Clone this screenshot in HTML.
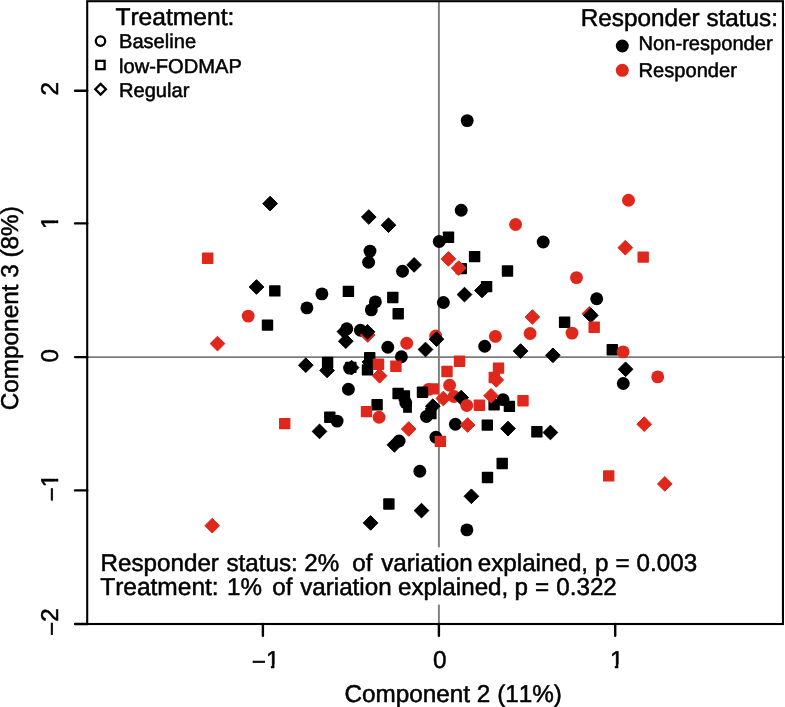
<!DOCTYPE html>
<html><head><meta charset="utf-8"><title>PCA plot</title>
<style>
html,body{margin:0;padding:0;background:#fff;}
svg{display:block;}
text{font-family:"Liberation Sans",sans-serif;fill:#000;stroke:#000;stroke-width:0.5px;font-kerning:none;text-rendering:geometricPrecision;}
</style></head><body>
<svg width="785" height="707" viewBox="0 0 785 707">
<rect width="785" height="707" fill="#fff"/>
<!-- zero lines -->
<line x1="87" y1="357.1" x2="785" y2="357.1" stroke="#7c7c7c" stroke-width="1.9"/>
<line x1="438.9" y1="1" x2="438.9" y2="624" stroke="#7c7c7c" stroke-width="1.9"/>
<!-- data -->
<path d="M270.1 196.25L277.45 203.6L270.1 210.95L262.75 203.6Z" fill="#000" stroke="#000" stroke-width="1" stroke-linejoin="round"/>
<rect x="202.00" y="252.50" width="11.4" height="11.4" rx="0.7" fill="#DF271C"/>
<circle cx="467.2" cy="120.6" r="6.45" fill="#000"/>
<circle cx="461.2" cy="210.3" r="6.45" fill="#000"/>
<circle cx="515.6" cy="224.5" r="6.45" fill="#DF271C"/>
<path d="M368.8 209.65L376.15 217.0L368.8 224.35L361.45 217.0Z" fill="#000" stroke="#000" stroke-width="1" stroke-linejoin="round"/>
<path d="M388.5 217.85L395.85 225.2L388.5 232.55L381.15 225.2Z" fill="#000" stroke="#000" stroke-width="1" stroke-linejoin="round"/>
<circle cx="439.2" cy="241.5" r="6.45" fill="#000"/>
<rect x="442.80" y="231.50" width="11.4" height="11.4" rx="0.7" fill="#000"/>
<circle cx="370.0" cy="251.1" r="6.45" fill="#000"/>
<circle cx="368.6" cy="262.2" r="6.45" fill="#000"/>
<path d="M448.4 251.55L455.75 258.9L448.4 266.25L441.05 258.9Z" fill="#DF271C" stroke="#DF271C" stroke-width="1" stroke-linejoin="round"/>
<rect x="468.90" y="250.90" width="11.4" height="11.4" rx="0.7" fill="#000"/>
<path d="M414.1 257.55L421.45 264.9L414.1 272.25L406.75 264.9Z" fill="#000" stroke="#000" stroke-width="1" stroke-linejoin="round"/>
<circle cx="628.5" cy="200.2" r="6.45" fill="#DF271C"/>
<circle cx="543.2" cy="242.0" r="6.45" fill="#000"/>
<path d="M625.3 240.35L632.65 247.7L625.3 255.05L617.95 247.7Z" fill="#DF271C" stroke="#DF271C" stroke-width="1" stroke-linejoin="round"/>
<rect x="637.50" y="251.40" width="11.4" height="11.4" rx="0.7" fill="#DF271C"/>
<path d="M256.5 279.65L263.85 287.0L256.5 294.35L249.15 287.0Z" fill="#000" stroke="#000" stroke-width="1" stroke-linejoin="round"/>
<rect x="269.10" y="285.20" width="11.4" height="11.4" rx="0.7" fill="#000"/>
<circle cx="248.2" cy="316.1" r="6.45" fill="#DF271C"/>
<rect x="261.80" y="319.40" width="11.4" height="11.4" rx="0.7" fill="#000"/>
<path d="M217.5 336.25L224.85 343.6L217.5 350.95L210.15 343.6Z" fill="#DF271C" stroke="#DF271C" stroke-width="1" stroke-linejoin="round"/>
<circle cx="321.9" cy="293.9" r="6.45" fill="#000"/>
<circle cx="306.9" cy="307.9" r="6.45" fill="#000"/>
<rect x="342.70" y="285.70" width="11.4" height="11.4" rx="0.7" fill="#000"/>
<circle cx="346.8" cy="328.8" r="6.45" fill="#000"/>
<path d="M344.4 324.25L351.75 331.6L344.4 338.95L337.05 331.6Z" fill="#000" stroke="#000" stroke-width="1" stroke-linejoin="round"/>
<path d="M345.8 333.85L353.15 341.2L345.8 348.55L338.45 341.2Z" fill="#000" stroke="#000" stroke-width="1" stroke-linejoin="round"/>
<path d="M305.8 357.85L313.15 365.2L305.8 372.55L298.45 365.2Z" fill="#000" stroke="#000" stroke-width="1" stroke-linejoin="round"/>
<rect x="321.90" y="356.80" width="11.4" height="11.4" rx="0.7" fill="#000"/>
<path d="M327.1 363.05L334.45 370.4L327.1 377.75L319.75 370.4Z" fill="#000" stroke="#000" stroke-width="1" stroke-linejoin="round"/>
<circle cx="349.6" cy="368.1" r="6.45" fill="#000"/>
<path d="M351.6 360.25L358.95 367.6L351.6 374.95L344.25 367.6Z" fill="#000" stroke="#000" stroke-width="1" stroke-linejoin="round"/>
<rect x="345.10" y="361.70" width="11.4" height="11.4" rx="0.7" fill="#000"/>
<circle cx="348.4" cy="389.3" r="6.45" fill="#000"/>
<circle cx="402.5" cy="271.2" r="6.45" fill="#000"/>
<circle cx="375.4" cy="301.9" r="6.45" fill="#000"/>
<circle cx="371.3" cy="309.9" r="6.45" fill="#000"/>
<rect x="387.10" y="291.80" width="11.4" height="11.4" rx="0.7" fill="#000"/>
<rect x="392.50" y="308.10" width="11.4" height="11.4" rx="0.7" fill="#000"/>
<circle cx="443.4" cy="302.5" r="6.45" fill="#000"/>
<circle cx="360.4" cy="330.2" r="6.45" fill="#000"/>
<path d="M367.7 327.65L375.05 335.0L367.7 342.35L360.35 335.0Z" fill="#DF271C" stroke="#DF271C" stroke-width="1" stroke-linejoin="round"/>
<path d="M367.5 324.45L374.85 331.8L367.5 339.15L360.15 331.8Z" fill="#000" stroke="#000" stroke-width="1" stroke-linejoin="round"/>
<circle cx="387.8" cy="347.2" r="6.45" fill="#000"/>
<circle cx="406.7" cy="343.3" r="6.45" fill="#DF271C"/>
<circle cx="435.7" cy="336.0" r="6.45" fill="#DF271C"/>
<path d="M436.5 331.85L443.85 339.2L436.5 346.55L429.15 339.2Z" fill="#000" stroke="#000" stroke-width="1" stroke-linejoin="round"/>
<path d="M425.5 342.15L432.85 349.5L425.5 356.85L418.15 349.5Z" fill="#000" stroke="#000" stroke-width="1" stroke-linejoin="round"/>
<rect x="455.60" y="262.90" width="11.4" height="11.4" rx="0.7" fill="#000"/>
<path d="M458.7 260.75L466.05 268.1L458.7 275.45L451.35 268.1Z" fill="#DF271C" stroke="#DF271C" stroke-width="1" stroke-linejoin="round"/>
<rect x="501.80" y="265.30" width="11.4" height="11.4" rx="0.7" fill="#000"/>
<rect x="480.90" y="280.90" width="11.4" height="11.4" rx="0.7" fill="#000"/>
<path d="M482.0 283.05L489.35 290.4L482.0 297.75L474.65 290.4Z" fill="#000" stroke="#000" stroke-width="1" stroke-linejoin="round"/>
<path d="M464.5 287.25L471.85 294.6L464.5 301.95L457.15 294.6Z" fill="#000" stroke="#000" stroke-width="1" stroke-linejoin="round"/>
<path d="M532.4 309.65L539.75 317.0L532.4 324.35L525.05 317.0Z" fill="#DF271C" stroke="#DF271C" stroke-width="1" stroke-linejoin="round"/>
<circle cx="530.1" cy="333.5" r="6.45" fill="#DF271C"/>
<circle cx="495.4" cy="336.4" r="6.45" fill="#DF271C"/>
<circle cx="484.7" cy="346.3" r="6.45" fill="#000"/>
<path d="M520.6 343.75L527.95 351.1L520.6 358.45L513.25 351.1Z" fill="#000" stroke="#000" stroke-width="1" stroke-linejoin="round"/>
<path d="M552.9 347.95L560.25 355.3L552.9 362.65L545.55 355.3Z" fill="#000" stroke="#000" stroke-width="1" stroke-linejoin="round"/>
<rect x="453.80" y="355.60" width="11.4" height="11.4" rx="0.7" fill="#DF271C"/>
<rect x="441.30" y="365.80" width="11.4" height="11.4" rx="0.7" fill="#DF271C"/>
<rect x="492.80" y="362.40" width="11.4" height="11.4" rx="0.7" fill="#DF271C"/>
<rect x="488.60" y="371.80" width="11.4" height="11.4" rx="0.7" fill="#DF271C"/>
<path d="M496.3 372.55L503.65 379.9L496.3 387.25L488.95 379.9Z" fill="#DF271C" stroke="#DF271C" stroke-width="1" stroke-linejoin="round"/>
<circle cx="449.6" cy="385.3" r="6.45" fill="#DF271C"/>
<circle cx="428.6" cy="389.4" r="6.45" fill="#DF271C"/>
<rect x="427.50" y="383.20" width="11.4" height="11.4" rx="0.7" fill="#DF271C"/>
<path d="M443.3 391.15L450.65 398.5L443.3 405.85L435.95 398.5Z" fill="#DF271C" stroke="#DF271C" stroke-width="1" stroke-linejoin="round"/>
<circle cx="454.0" cy="396.5" r="6.45" fill="#DF271C"/>
<path d="M461.2 390.25L468.55 397.6L461.2 404.95L453.85 397.6Z" fill="#000" stroke="#000" stroke-width="1" stroke-linejoin="round"/>
<circle cx="466.8" cy="405.5" r="6.45" fill="#DF271C"/>
<rect x="473.70" y="399.60" width="11.4" height="11.4" rx="0.7" fill="#DF271C"/>
<circle cx="503.0" cy="399.6" r="6.45" fill="#000"/>
<rect x="488.40" y="399.10" width="11.4" height="11.4" rx="0.7" fill="#000"/>
<rect x="503.70" y="400.70" width="11.4" height="11.4" rx="0.7" fill="#000"/>
<path d="M491.0 388.45L498.35 395.8L491.0 403.15L483.65 395.8Z" fill="#DF271C" stroke="#DF271C" stroke-width="1" stroke-linejoin="round"/>
<rect x="517.30" y="395.00" width="11.4" height="11.4" rx="0.7" fill="#DF271C"/>
<rect x="425.20" y="407.80" width="11.4" height="11.4" rx="0.7" fill="#000"/>
<circle cx="426.4" cy="416.5" r="6.45" fill="#000"/>
<path d="M432.8 398.85L440.15 406.2L432.8 413.55L425.45 406.2Z" fill="#000" stroke="#000" stroke-width="1" stroke-linejoin="round"/>
<circle cx="455.4" cy="424.3" r="6.45" fill="#000"/>
<path d="M467.6 417.65L474.95 425.0L467.6 432.35L460.25 425.0Z" fill="#DF271C" stroke="#DF271C" stroke-width="1" stroke-linejoin="round"/>
<rect x="481.60" y="419.40" width="11.4" height="11.4" rx="0.7" fill="#000"/>
<path d="M508.0 421.25L515.35 428.6L508.0 435.95L500.65 428.6Z" fill="#000" stroke="#000" stroke-width="1" stroke-linejoin="round"/>
<rect x="531.20" y="426.00" width="11.4" height="11.4" rx="0.7" fill="#000"/>
<path d="M550.4 425.15L557.75 432.5L550.4 439.85L543.05 432.5Z" fill="#000" stroke="#000" stroke-width="1" stroke-linejoin="round"/>
<circle cx="435.9" cy="437.3" r="6.45" fill="#000"/>
<rect x="434.70" y="435.70" width="11.4" height="11.4" rx="0.7" fill="#DF271C"/>
<rect x="496.50" y="457.80" width="11.4" height="11.4" rx="0.7" fill="#000"/>
<rect x="481.80" y="471.80" width="11.4" height="11.4" rx="0.7" fill="#000"/>
<path d="M471.4 488.95L478.75 496.3L471.4 503.65L464.05 496.3Z" fill="#000" stroke="#000" stroke-width="1" stroke-linejoin="round"/>
<circle cx="419.8" cy="471.3" r="6.45" fill="#000"/>
<circle cx="401.4" cy="356.8" r="6.45" fill="#000"/>
<path d="M369.5 354.65L376.85 362.0L369.5 369.35L362.15 362.0Z" fill="#000" stroke="#000" stroke-width="1" stroke-linejoin="round"/>
<rect x="364.00" y="352.00" width="11.4" height="11.4" rx="0.7" fill="#000"/>
<rect x="361.80" y="364.20" width="11.4" height="11.4" rx="0.7" fill="#000"/>
<rect x="372.80" y="358.60" width="11.4" height="11.4" rx="0.7" fill="#DF271C"/>
<path d="M379.6 368.45L386.95 375.8L379.6 383.15L372.25 375.8Z" fill="#DF271C" stroke="#DF271C" stroke-width="1" stroke-linejoin="round"/>
<rect x="390.20" y="360.60" width="11.4" height="11.4" rx="0.7" fill="#DF271C"/>
<rect x="371.40" y="399.00" width="11.4" height="11.4" rx="0.7" fill="#000"/>
<rect x="360.80" y="405.90" width="11.4" height="11.4" rx="0.7" fill="#DF271C"/>
<circle cx="379.1" cy="417.3" r="6.45" fill="#DF271C"/>
<rect x="392.40" y="387.80" width="11.4" height="11.4" rx="0.7" fill="#000"/>
<rect x="398.70" y="390.20" width="11.4" height="11.4" rx="0.7" fill="#000"/>
<circle cx="405.75" cy="402.8" r="6.45" fill="#000"/>
<rect x="403.15" y="401.4" width="8.75" height="11.4" fill="#000"/>
<rect x="416.80" y="386.50" width="11.4" height="11.4" rx="0.7" fill="#000"/>
<path d="M408.7 421.65L416.05 429.0L408.7 436.35L401.35 429.0Z" fill="#DF271C" stroke="#DF271C" stroke-width="1" stroke-linejoin="round"/>
<circle cx="399.1" cy="441.0" r="6.45" fill="#000"/>
<path d="M394.4 437.45L401.75 444.8L394.4 452.15L387.05 444.8Z" fill="#000" stroke="#000" stroke-width="1" stroke-linejoin="round"/>
<rect x="324.10" y="411.50" width="11.4" height="11.4" rx="0.7" fill="#000"/>
<circle cx="337.1" cy="421.1" r="6.45" fill="#000"/>
<path d="M319.5 424.05L326.85 431.4L319.5 438.75L312.15 431.4Z" fill="#000" stroke="#000" stroke-width="1" stroke-linejoin="round"/>
<rect x="279.00" y="417.90" width="11.4" height="11.4" rx="0.7" fill="#DF271C"/>
<path d="M212.2 518.35L219.55 525.7L212.2 533.05L204.85 525.7Z" fill="#DF271C" stroke="#DF271C" stroke-width="1" stroke-linejoin="round"/>
<path d="M370.6 515.55L377.95 522.9L370.6 530.25L363.25 522.9Z" fill="#000" stroke="#000" stroke-width="1" stroke-linejoin="round"/>
<rect x="383.20" y="498.30" width="11.4" height="11.4" rx="0.7" fill="#000"/>
<path d="M421.5 503.25L428.85 510.6L421.5 517.95L414.15 510.6Z" fill="#000" stroke="#000" stroke-width="1" stroke-linejoin="round"/>
<circle cx="466.9" cy="529.9" r="6.45" fill="#000"/>
<circle cx="576.5" cy="277.6" r="6.45" fill="#DF271C"/>
<circle cx="596.7" cy="298.7" r="6.45" fill="#000"/>
<path d="M589.3 306.45L596.65 313.8L589.3 321.15L581.95 313.8Z" fill="#DF271C" stroke="#DF271C" stroke-width="1" stroke-linejoin="round"/>
<path d="M590.8 308.05L598.15 315.4L590.8 322.75L583.45 315.4Z" fill="#000" stroke="#000" stroke-width="1" stroke-linejoin="round"/>
<rect x="588.50" y="321.60" width="11.4" height="11.4" rx="0.7" fill="#DF271C"/>
<rect x="558.90" y="316.60" width="11.4" height="11.4" rx="0.7" fill="#000"/>
<circle cx="572.0" cy="333.1" r="6.45" fill="#DF271C"/>
<rect x="606.60" y="344.10" width="11.4" height="11.4" rx="0.7" fill="#000"/>
<circle cx="623.1" cy="351.9" r="6.45" fill="#DF271C"/>
<path d="M625.6 361.95L632.95 369.3L625.6 376.65L618.25 369.3Z" fill="#000" stroke="#000" stroke-width="1" stroke-linejoin="round"/>
<circle cx="623.3" cy="383.5" r="6.45" fill="#000"/>
<circle cx="657.7" cy="376.9" r="6.45" fill="#DF271C"/>
<path d="M644.2 416.85L651.55 424.2L644.2 431.55L636.85 424.2Z" fill="#DF271C" stroke="#DF271C" stroke-width="1" stroke-linejoin="round"/>
<rect x="603.00" y="470.20" width="11.4" height="11.4" rx="0.7" fill="#DF271C"/>
<path d="M664.8 476.55L672.15 483.9L664.8 491.25L657.45 483.9Z" fill="#DF271C" stroke="#DF271C" stroke-width="1" stroke-linejoin="round"/>
<!-- annotation box -->
<rect x="95" y="547.3" width="590" height="57.3" fill="#fff"/>
<text y="571.1" font-size="24.2" xml:space="preserve"><tspan x="100.60">Responder </tspan><tspan x="226.50">status: </tspan><tspan x="304.30">2%  </tspan><tspan x="352.20">of </tspan><tspan x="381.20">variation </tspan><tspan x="477.80">explained, </tspan><tspan x="595.00">p </tspan><tspan x="615.50">= </tspan><tspan x="636.60">0.003</tspan></text>
<text y="594.9" font-size="24.2" xml:space="preserve"><tspan x="100.20" font-size="24.5">Treatment: </tspan><tspan x="227.00">1%  </tspan><tspan x="272.30">of </tspan><tspan x="300.20">variation </tspan><tspan x="398.00">explained, </tspan><tspan x="514.40">p </tspan><tspan x="534.90">= </tspan><tspan x="556.30">0.322</tspan></text>
<!-- frame -->
<rect x="87.2" y="1.2" width="695.75" height="622.8" fill="none" stroke="#000" stroke-width="2.1"/>
<!-- ticks -->
<g stroke="#000" stroke-width="2.4" stroke-linecap="round">
<line x1="262.9" y1="624" x2="262.9" y2="635.8"/>
<line x1="438.9" y1="624" x2="438.9" y2="635.8"/>
<line x1="615.2" y1="624" x2="615.2" y2="635.8"/>
<line x1="75.1" y1="90.7" x2="87.2" y2="90.7"/>
<line x1="75.1" y1="223.4" x2="87.2" y2="223.4"/>
<line x1="75.1" y1="357.1" x2="87.2" y2="357.1"/>
<line x1="75.1" y1="490.4" x2="87.2" y2="490.4"/>
<line x1="75.1" y1="624" x2="87.2" y2="624"/>
</g>
<!-- tick labels -->
<g transform="translate(251.8 667.7)"><text font-size="24.3"><tspan dy="2">−</tspan><tspan dy="-2">1</tspan></text><rect x="14.49" y="-3.2" width="4.60" height="4.5" fill="#fff"/><rect x="22.64" y="-3.2" width="5.2" height="4.5" fill="#fff"/></g>
<g transform="translate(433.1 667.7)"><text font-size="24.3">0</text></g>
<g transform="translate(609.9 667.7)"><text font-size="24.3">1</text><rect x="0.30" y="-3.2" width="4.60" height="4.5" fill="#fff"/><rect x="8.45" y="-3.2" width="5.2" height="4.5" fill="#fff"/></g>
<g transform="translate(58.2 95.6) rotate(-90)"><text font-size="24.3">2</text></g>
<g transform="translate(58.2 228.9) rotate(-90)"><text font-size="24.3">1</text><rect x="0.30" y="-3.2" width="5.40" height="4.5" fill="#fff"/><rect x="8.60" y="-3.2" width="5.2" height="4.5" fill="#fff"/></g>
<g transform="translate(58.2 362.5) rotate(-90)"><text font-size="24.3">0</text></g>
<g transform="translate(58.2 501.5) rotate(-90)"><text font-size="24.3"><tspan dy="2">−</tspan><tspan dy="-2">1</tspan></text><rect x="14.49" y="-3.2" width="5.40" height="4.5" fill="#fff"/><rect x="22.79" y="-3.2" width="5.2" height="4.5" fill="#fff"/></g>
<g transform="translate(58.2 635.9) rotate(-90)"><text font-size="24.3"><tspan dy="2">−</tspan><tspan dy="-2">2</tspan></text></g>
<!-- axis titles -->
<text x="344.5" y="701.6" font-size="24.3">Component 2 (11%)</text>
<text transform="translate(18.4 410.2) rotate(-90)" font-size="24.3">Component 3 (8%)</text>
<!-- left legend -->
<text x="115.4" y="25.2" font-size="24.3" textLength="119" lengthAdjust="spacingAndGlyphs">Treatment:</text>
<circle cx="100.5" cy="41.1" r="4.7" fill="none" stroke="#000" stroke-width="2.3"/>
<rect x="96.3" y="60.85" width="8.3" height="8.3" fill="none" stroke="#000" stroke-width="2.3"/>
<path d="M100.6 83.9L105.9 89.2L100.6 94.5L95.3 89.2Z" fill="none" stroke="#000" stroke-width="2.3"/>
<g font-size="20.1">
<text x="119" y="48.1">Baseline</text>
<text x="119" y="72.5">low-FODMAP</text>
<text x="119" y="96.8">Regular</text>
</g>
<!-- right legend -->
<text x="580.8" y="25.8" font-size="24.3">Responder status:</text>
<circle cx="622.3" cy="46" r="6.5" fill="#000"/>
<circle cx="622.3" cy="70.3" r="6.5" fill="#DF271C"/>
<g font-size="20.1">
<text x="638.6" y="50.3">Non-responder</text>
<text x="638.6" y="76.5">Responder</text>
</g>
</svg>
</body></html>
